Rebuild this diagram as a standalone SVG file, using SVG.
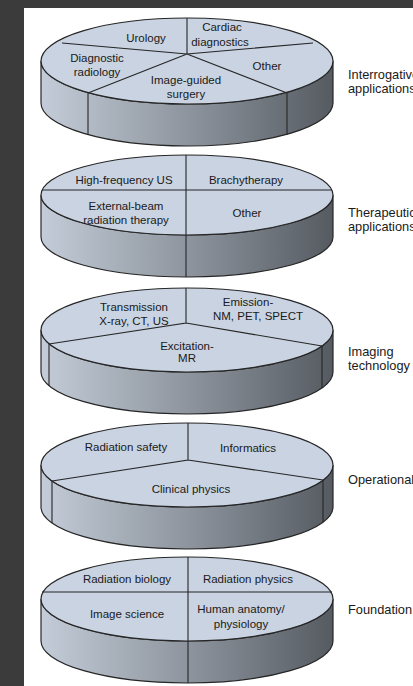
<svg xmlns="http://www.w3.org/2000/svg" width="413" height="686" viewBox="0 0 413 686">
<defs>
<linearGradient id="side" x1="0" y1="0" x2="1" y2="0">
<stop offset="0" stop-color="#c3ccd8"/>
<stop offset="0.5" stop-color="#8e959e"/>
<stop offset="1" stop-color="#565b62"/>
</linearGradient>
</defs>
<style>
.side{fill:url(#side);stroke:#262626;stroke-width:1.2}
.top{fill:#c9d3e2;stroke:#262626;stroke-width:1.2}
.ln{stroke:#262626;stroke-width:1.1;fill:none}
text{font-family:"Liberation Sans",Arial,sans-serif;font-size:11.5px;fill:#1a1a1a}
.c{text-anchor:middle}
.lab{font-size:12.8px}
</style>
<rect x="0" y="0" width="413" height="686" fill="#3b3b3b"/>
<rect x="24" y="8" width="389" height="678" fill="#ffffff"/>

<g id="disk1">
<path class="side" d="M41,61 A146,43 0 0 0 333,61 L333,103 A146,43 0 0 1 41,103 Z"/>
<ellipse class="top" cx="187" cy="61" rx="146" ry="43"/>
<path class="ln" d="M187,18 L187,54 M62,43 L187,54 L313,43 M187,54 L88,93 M187,54 L287,93 M88,93 L88,135 M287,93 L287,135"/>
<text class="c" x="146" y="42">Urology</text>
<text class="c" x="222" y="31">Cardiac</text>
<text class="c" x="220" y="46">diagnostics</text>
<text class="c" x="97" y="62">Diagnostic</text>
<text class="c" x="97" y="76">radiology</text>
<text class="c" x="267" y="70">Other</text>
<text class="c" x="186" y="84">Image-guided</text>
<text class="c" x="186" y="98">surgery</text>
</g>
<g id="label1">
<text class="lab" x="348" y="79">Interrogative</text>
<text class="lab" x="348" y="93">applications</text>
</g>

<g id="disk2">
<path class="side" d="M41,195 A146,40 0 0 0 333,195 L333,237 A146,40 0 0 1 41,237 Z"/>
<ellipse class="top" cx="187" cy="195" rx="146" ry="40"/>
<path class="ln" d="M186,155 L186,277 M42,190 L332,190"/>
<text class="c" x="124" y="184">High-frequency US</text>
<text class="c" x="246" y="184">Brachytherapy</text>
<text class="c" x="126" y="210">External-beam</text>
<text class="c" x="126" y="224">radiation therapy</text>
<text class="c" x="247" y="217">Other</text>
</g>
<g id="label2">
<text class="lab" x="348" y="217">Therapeutic</text>
<text class="lab" x="348" y="231">applications</text>
</g>

<g id="disk3">
<path class="side" d="M41,330 A146,42 0 0 0 333,330 L333,372 A146,42 0 0 1 41,372 Z"/>
<ellipse class="top" cx="187" cy="330" rx="146" ry="42"/>
<path class="ln" d="M186,288 L186,323 L49,344 M186,323 L322,346 M49,344 L49,386 M322,346 L322,388"/>
<text class="c" x="134" y="311">Transmission</text>
<text class="c" x="134" y="325">X-ray, CT, US</text>
<text class="c" x="248" y="306">Emission-</text>
<text class="c" x="258" y="320">NM, PET, SPECT</text>
<text class="c" x="187" y="350">Excitation-</text>
<text class="c" x="187" y="362">MR</text>
</g>
<g id="label3">
<text class="lab" x="348" y="356">Imaging</text>
<text class="lab" x="348" y="370">technology</text>
</g>

<g id="disk4">
<path class="side" d="M41,465 A146,42 0 0 0 333,465 L333,507 A146,42 0 0 1 41,507 Z"/>
<ellipse class="top" cx="187" cy="465" rx="146" ry="42"/>
<path class="ln" d="M188,423 L188,460 L52,481 M188,460 L323,480 M52,481 L52,523 M323,480 L323,522"/>
<text class="c" x="126" y="451">Radiation safety</text>
<text class="c" x="248" y="452">Informatics</text>
<text class="c" x="191" y="493">Clinical physics</text>
</g>
<g id="label4">
<text class="lab" x="348" y="484">Operational</text>
</g>

<g id="disk5">
<path class="side" d="M41,599 A146,42 0 0 0 333,599 L333,641 A146,42 0 0 1 41,641 Z"/>
<ellipse class="top" cx="187" cy="599" rx="146" ry="42"/>
<path class="ln" d="M188,557 L188,683 M42,592 L332,592"/>
<text class="c" x="127" y="583">Radiation biology</text>
<text class="c" x="248" y="583">Radiation physics</text>
<text class="c" x="127" y="618">Image science</text>
<text class="c" x="241" y="613">Human anatomy/</text>
<text class="c" x="241" y="628">physiology</text>
</g>
<g id="label5">
<text class="lab" x="348" y="614">Foundation</text>
</g>
</svg>
